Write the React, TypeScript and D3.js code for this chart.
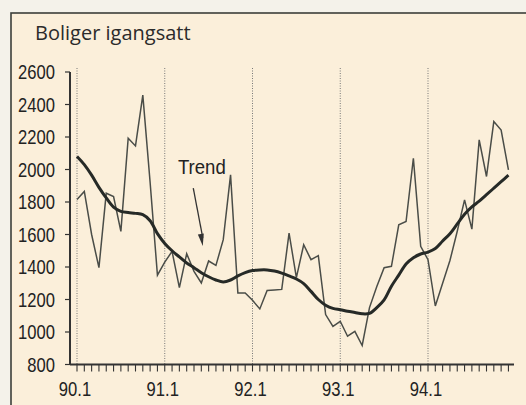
import React, { useEffect, useRef } from 'react';
import * as d3 from 'd3';

// Monthly housing starts, 90.1 - 94.12
const raw = [
  1815, 1865, 1600, 1396, 1854, 1834, 1619, 2193, 2145, 2458, 1920, 1350,
  1430, 1496, 1273, 1482, 1373, 1302, 1437, 1410, 1568, 1967, 1240, 1240,
  1195, 1142, 1255, 1258, 1262, 1609, 1335, 1537, 1445, 1470, 1107, 1035,
  1066, 974, 1004, 917, 1150, 1280, 1396, 1404, 1660, 1680, 2069, 1527,
  1445, 1160, 1300, 1440, 1620, 1813, 1633, 2182, 1957, 2295, 2243, 1998
];

const trend = [
  2080, 2030, 1965, 1890, 1825, 1768, 1742, 1735, 1730, 1722, 1685, 1605,
  1545, 1500, 1462, 1425, 1396, 1365, 1340, 1320, 1308, 1320, 1345, 1365,
  1378, 1382, 1382, 1375, 1362, 1345, 1326, 1298, 1250, 1200, 1165, 1145,
  1137, 1128, 1120, 1112, 1115, 1150, 1198, 1282, 1350, 1418, 1457, 1480,
  1492, 1514, 1560, 1605, 1665, 1725, 1770, 1805, 1845, 1885, 1925, 1965
];

const yTicks = [800, 1000, 1200, 1400, 1600, 1800, 2000, 2200, 2400, 2600];
const yearLabels = ['90.1', '91.1', '92.1', '93.1', '94.1'];

const W = 526;
const H = 405;
const numFont = '"Liberation Sans", Arial, sans-serif';

const App: React.FC = () => {
  const svgRef = useRef<SVGSVGElement>(null);

  useEffect(() => {
    if (!svgRef.current) return;
    const svg = d3.select(svgRef.current);
    svg.selectAll('*').remove();

    const x = d3.scaleLinear().domain([0, 48]).range([77, 428]);
    const y = d3.scaleLinear().domain([800, 2600]).range([364.5, 72]);
    const axisX = 70;
    const axisY = y(800);

    // condensed-looking label: regular sans squeezed horizontally
    const narrowText = (tx: number, ty: number, s: string, anchor: string, sx = 0.83) =>
      svg.append('text')
        .attr('transform', `translate(${tx},${ty}) scale(${sx},1)`)
        .attr('text-anchor', anchor)
        .style('font-family', numFont)
        .style('font-size', '20px')
        .style('fill', '#222')
        .text(s);

    // background + frame
    svg.append('rect').attr('width', W).attr('height', H).attr('fill', '#f4f2ea');
    svg.append('rect')
      .attr('x', 11).attr('y', 13)
      .attr('width', W + 20).attr('height', H + 20)
      .attr('fill', '#fbefda')
      .attr('stroke', '#3c3f3a')
      .attr('stroke-width', 1.6);

    // title
    svg.append('text')
      .attr('x', 35).attr('y', 40)
      .style('font-family', '"Open Sans", "Noto Sans", sans-serif')
      .style('font-size', '20px')
      .style('fill', '#2b2b2b')
      .text('Boliger igangsatt');

    // year gridlines (dotted)
    yearLabels.forEach((_, k) => {
      svg.append('line')
        .attr('x1', x(k * 12)).attr('x2', x(k * 12))
        .attr('y1', 68).attr('y2', axisY)
        .attr('stroke', '#777')
        .attr('stroke-width', 1)
        .attr('stroke-dasharray', '1,1.5');
    });

    // y axis
    svg.append('line')
      .attr('x1', axisX).attr('x2', axisX)
      .attr('y1', y(2600)).attr('y2', axisY)
      .attr('stroke', '#333').attr('stroke-width', 2);
    yTicks.forEach(v => {
      svg.append('line')
        .attr('x1', axisX - 5).attr('x2', axisX)
        .attr('y1', y(v)).attr('y2', y(v))
        .attr('stroke', '#333').attr('stroke-width', 1.2);
      narrowText(55, y(v) + 7, String(v), 'end');
    });

    // x axis with monthly ticks
    svg.append('line')
      .attr('x1', axisX).attr('x2', 514)
      .attr('y1', axisY).attr('y2', axisY)
      .attr('stroke', '#333').attr('stroke-width', 2);
    d3.range(raw.length).forEach(i => {
      svg.append('line')
        .attr('x1', x(i)).attr('x2', x(i))
        .attr('y1', axisY).attr('y2', axisY + 7)
        .attr('stroke', '#333').attr('stroke-width', 1.1);
    });
    yearLabels.forEach((lab, k) => {
      narrowText(x(k * 12) - 2, 396, lab, 'middle');
    });

    // raw series
    const line = d3.line<number>().x((_, i) => x(i)).y(d => y(d));
    svg.append('path')
      .attr('d', line(raw) || '')
      .attr('fill', 'none')
      .attr('stroke', '#4a4d48')
      .attr('stroke-width', 1.5)
      .attr('stroke-linejoin', 'miter');

    // trend
    const smooth = d3.line<number>().x((_, i) => x(i)).y(d => y(d)).curve(d3.curveCatmullRom);
    svg.append('path')
      .attr('d', smooth(trend) || '')
      .attr('fill', 'none')
      .attr('stroke', '#262a27')
      .attr('stroke-width', 3);

    // Trend annotation
    narrowText(x(13.8), y(1975), 'Trend', 'start', 0.93);
    const ax1 = x(15.9), ay1 = y(1885);
    const ax2 = x(17.2), ay2 = y(1530);
    svg.append('line')
      .attr('x1', ax1).attr('y1', ay1)
      .attr('x2', ax2).attr('y2', ay2 - 8)
      .attr('stroke', '#333').attr('stroke-width', 1.3);
    const ang = Math.atan2(ay2 - ay1, ax2 - ax1);
    const hl = 12, hw = 3;
    const bx = ax2 - hl * Math.cos(ang), by = ay2 - hl * Math.sin(ang);
    svg.append('path')
      .attr('d', `M${ax2},${ay2}L${bx - hw * Math.sin(ang)},${by + hw * Math.cos(ang)}L${bx + hw * Math.sin(ang)},${by - hw * Math.cos(ang)}Z`)
      .attr('fill', '#333');
  }, []);

  return (
    <svg
      ref={svgRef}
      width={W}
      height={H}
      style={{ position: 'absolute', left: 0, top: 0, display: 'block' }}
    />
  );
};

export default App;
